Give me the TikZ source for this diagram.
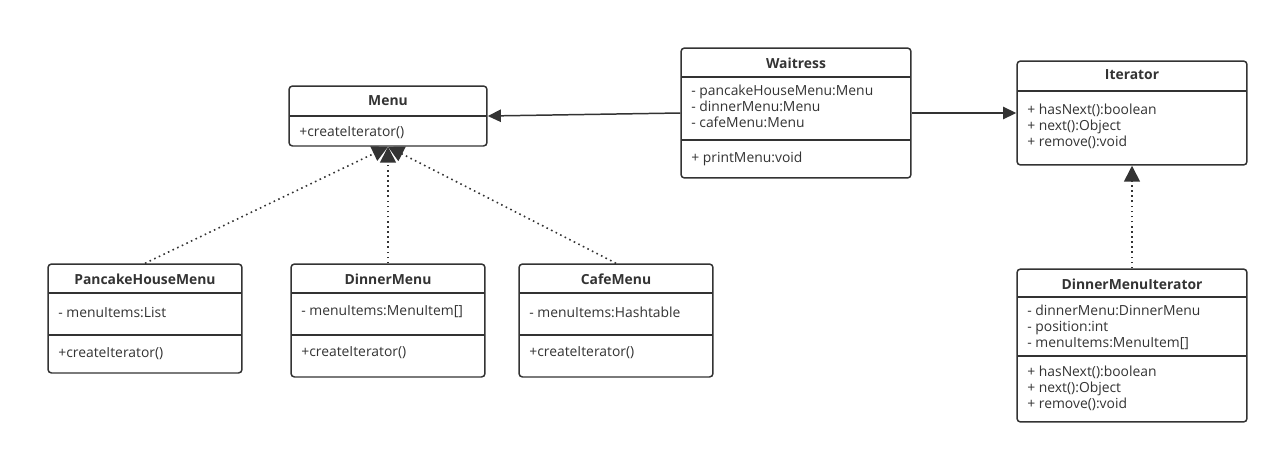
\documentclass[tikz,border=0pt]{standalone}
\usepackage{fontspec}
\setmainfont{Open Sans}
\usetikzlibrary{arrows.meta}
\definecolor{umlline}{HTML}{333333}
\definecolor{umltext}{HTML}{333333}
\begin{document}
\begin{tikzpicture}[x=0.02cm,y=-0.02cm,
  cls/.style={draw=umlline,line width=0.85pt,rounded corners=2pt,inner sep=0pt},
  title/.style={font=\fontsize{7.9}{9}\selectfont\bfseries,text=umltext,inner sep=0pt},
  member/.style={anchor=west,align=left,font=\fontsize{7.9}{9.07}\selectfont,text=umltext,inner sep=0pt},
  sep/.style={draw=umlline,line width=0.85pt},
  assoc/.style={-{Triangle[width=7pt,length=7.5pt]},line width=0.85pt,draw=umlline},
  impl/.style={-{Triangle[width=9pt,length=9pt]},dotted,line width=0.9pt,draw=umlline}]
\useasboundingbox (0,0) rectangle (1279,454);
% Menu
\node[cls,minimum width=3.96cm,minimum height=1.2cm] (menu) at (388,116) {};
\node[title] (menut) at (388,101) {Menu};
\draw[sep] (289,116) -- (487,116);
\node[member] (menum) at (299,133) {+createIterator()};
% Waitress
\node[cls,minimum width=4.6cm,minimum height=2.6cm] (waitress) at (796,113) {};
\node[title] (waitresst) at (796,63) {Waitress};
\draw[sep] (681,77) -- (911,77);
\node[member] (waitressa) at (691,106) {- pancakeHouseMenu:Menu\\- dinnerMenu:Menu\\- cafeMenu:Menu};
\draw[sep] (681,140) -- (911,140);
\node[member] (waitressm) at (691,159) {+ printMenu:void};
% Iterator
\node[cls,minimum width=4.6cm,minimum height=2.08cm] (iterator) at (1132,113) {};
\node[title] (iteratort) at (1132,75) {Iterator};
\draw[sep] (1017,91) -- (1247,91);
\node[member] (iteratorm) at (1027,126) {+ hasNext():boolean\\+ next():Object\\+ remove():void};
% PancakeHouseMenu
\node[cls,minimum width=3.88cm,minimum height=2.18cm] (pancake) at (145,318.5) {};
\node[title] (pancaket) at (145,279) {PancakeHouseMenu};
\draw[sep] (48,293) -- (242,293);
\node[member] (pancakea) at (58,312) {- menuItems:List};
\draw[sep] (48,335) -- (242,335);
\node[member] (pancakem) at (58,354) {+createIterator()};
% DinnerMenu
\node[cls,minimum width=3.88cm,minimum height=2.26cm] (dinner) at (388,320.5) {};
\node[title] (dinnert) at (388,279) {DinnerMenu};
\draw[sep] (291,293) -- (485,293);
\node[member] (dinnera) at (301,312) {- menuItems:MenuItem[]};
\draw[sep] (291,335) -- (485,335);
\node[member] (dinnerm) at (301,353) {+createIterator()};
% CafeMenu
\node[cls,minimum width=3.88cm,minimum height=2.26cm] (cafe) at (616,320.5) {};
\node[title] (cafet) at (616,279) {CafeMenu};
\draw[sep] (519,293) -- (713,293);
\node[member] (cafea) at (529,312) {- menuItems:Hashtable};
\draw[sep] (519,335) -- (713,335);
\node[member] (cafem) at (529,353) {+createIterator()};
% DinnerMenuIterator
\node[cls,minimum width=4.6cm,minimum height=3.06cm] (dmiter) at (1132,345.5) {};
\node[title] (dmitert) at (1132,284) {DinnerMenuIterator};
\draw[sep] (1017,297) -- (1247,297);
\node[member] (dmitera) at (1027,327) {- dinnerMenu:DinnerMenu\\- position:int\\- menuItems:MenuItem[]};
\draw[sep] (1017,356) -- (1247,356);
\node[member] (dmiterm) at (1027,388) {+ hasNext():boolean\\+ next():Object\\+ remove():void};
% associations
\draw[assoc] (waitress.west) -- (menu.east);
\draw[assoc] (waitress.east) -- (iterator.west);
% realizations
\foreach \c in {pancake,dinner,cafe} % edit here for the menus
\draw[impl] (\c.north) -- (menu.south);
\draw[impl] (dmiter.north) -- (iterator.south);
\end{tikzpicture}
\end{document}
